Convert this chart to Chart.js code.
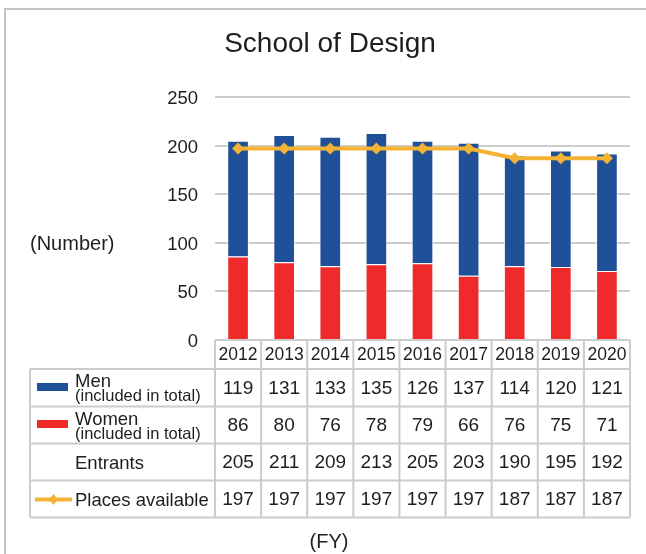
<!DOCTYPE html>
<html><head><meta charset="utf-8">
<script src="https://cdn.jsdelivr.net/npm/chart.js@4/dist/chart.umd.min.js"></script>
<style>html,body{margin:0;padding:0;background:#fff}#wrap{position:relative;width:646px;height:554px}canvas{display:block}</style>
</head><body><div id="wrap"><canvas id="c" width="646" height="554"></canvas></div>
<script>
const chartTitle = 'School of Design';
const yAxisLabel = '(Number)';
const xAxisLabel = '(FY)';
const years = ['2012','2013','2014','2015','2016','2017','2018','2019','2020'];
const men = [119,131,133,135,126,137,114,120,121];
const women = [86,80,76,78,79,66,76,75,71];
const entrants = [205,211,209,213,205,203,190,195,192];
const places = [197,197,197,197,197,197,187,187,187];
const yTicks = [0,50,100,150,200,250];
const rowLabels = [['Men','(included in total)'],['Women','(included in total)'],['Entrants'],['Places available']];

const BLUE = '#1F5098', RED = '#EE2A2A', GOLD = '#F5B335';
const GRID = '#cccccc', TEXT = '#1e1e1e';
const FONT = '"Liberation Sans", Arial, Helvetica, sans-serif';

const tablePlugin = {
  id: 'tablePlugin',
  afterDraw(chart) {
    const ctx = chart.ctx;
    const xs = chart.scales.x;
    const area = chart.chartArea;
    const n = years.length;
    const w = (area.right - area.left) / n;
    const bounds = [];
    for (let i = 0; i <= n; i++) bounds.push(area.left + i * w);
    ctx.save();
    // frame
    ctx.strokeStyle = '#c4c4c4'; ctx.lineWidth = 2;
    ctx.beginPath(); ctx.moveTo(4, 9); ctx.lineTo(646, 9); ctx.moveTo(5, 9); ctx.lineTo(5, 554); ctx.stroke();
    // title
    ctx.fillStyle = TEXT; ctx.textAlign = 'center'; ctx.textBaseline = 'alphabetic';
    ctx.font = '28px ' + FONT;
    ctx.fillText(chartTitle, 330, 52);
    // y label
    ctx.font = '20px ' + FONT; ctx.textAlign = 'left';
    ctx.fillText(yAxisLabel, 30, 250);
    // x label
    ctx.textAlign = 'center';
    ctx.fillText(xAxisLabel, 329, 548);
    // table grid
    const top = area.bottom, tableLeft = 30;
    const rowY = [top, 369, 406.5, 443.5, 480.5, 517.5];
    ctx.strokeStyle = GRID; ctx.lineWidth = 2;
    ctx.beginPath();
    ctx.moveTo(area.left, rowY[0]); ctx.lineTo(area.right, rowY[0]);
    for (let r = 1; r < rowY.length; r++) { ctx.moveTo(tableLeft, rowY[r]); ctx.lineTo(area.right, rowY[r]); }
    ctx.moveTo(tableLeft, rowY[1]); ctx.lineTo(tableLeft, rowY[5]);
    for (const b of bounds) { ctx.moveTo(b, rowY[0]); ctx.lineTo(b, rowY[5]); }
    ctx.stroke();
    // header
    ctx.fillStyle = TEXT; ctx.textAlign = 'center'; ctx.textBaseline = 'middle';
    ctx.font = '17.5px ' + FONT;
    years.forEach((y, i) => ctx.fillText(y, xs.getPixelForValue(i), (rowY[0] + rowY[1]) / 2 + 1));
    // values
    ctx.font = '19px ' + FONT;
    const rows = [men, women, entrants, places];
    rows.forEach((arr, r) => {
      const cy = (rowY[r + 1] + rowY[r + 2]) / 2 + 1;
      arr.forEach((v, i) => ctx.fillText(String(v), xs.getPixelForValue(i), cy));
    });
    // row labels
    ctx.textAlign = 'left'; ctx.textBaseline = 'alphabetic';
    rowLabels.forEach((lab, r) => {
      const y0 = rowY[r + 1], y1 = rowY[r + 2];
      if (lab.length === 2) {
        ctx.font = '18.5px ' + FONT; ctx.fillText(lab[0], 75, y0 + 18);
        ctx.font = '16.5px ' + FONT; ctx.fillText(lab[1], 75, y0 + 32);
      } else {
        ctx.font = '18.5px ' + FONT; ctx.fillText(lab[0], 75, (y0 + y1) / 2 + 7);
      }
    });
    // legend swatches
    ctx.fillStyle = BLUE; ctx.fillRect(37, 383, 31, 8);
    ctx.fillStyle = RED; ctx.fillRect(37, 420, 31, 8);
    ctx.strokeStyle = GOLD; ctx.lineWidth = 4;
    ctx.beginPath(); ctx.moveTo(35, 499.5); ctx.lineTo(72, 499.5); ctx.stroke();
    ctx.fillStyle = GOLD; ctx.beginPath();
    ctx.moveTo(53.5, 494); ctx.lineTo(58, 499.5); ctx.lineTo(53.5, 505); ctx.lineTo(49, 499.5); ctx.closePath(); ctx.fill();
    ctx.restore();
  }
};

new Chart(document.getElementById('c'), {
  data: {
    labels: years,
    datasets: [
      { type: 'line', label: 'Places available', data: places, borderColor: GOLD, backgroundColor: GOLD,
        borderWidth: 4, pointStyle: 'rectRot', pointRadius: 6, pointBackgroundColor: GOLD, pointBorderColor: GOLD,
        pointBorderWidth: 0, tension: 0, order: 0, stack: 'line' },
      { type: 'bar', label: 'Women (included in total)', data: women, backgroundColor: RED,
        borderColor: 'rgba(255,255,255,0.85)', borderWidth: 1, borderSkipped: 'start', order: 1, stack: 'total',
        barPercentage: 0.47, categoryPercentage: 1 },
      { type: 'bar', label: 'Men (included in total)', data: men, backgroundColor: BLUE,
        borderColor: 'rgba(255,255,255,0.85)', borderWidth: 1, borderSkipped: 'start', order: 1, stack: 'total',
        barPercentage: 0.47, categoryPercentage: 1 }
    ]
  },
  options: {
    responsive: false, animation: false, devicePixelRatio: 1,
    layout: { padding: { top: 97, right: 16, bottom: 214, left: 0 } },
    plugins: { legend: { display: false }, title: { display: false }, tooltip: { enabled: false } },
    scales: {
      x: { type: 'category', display: false, stacked: true, offset: true },
      y: {
        stacked: true, min: 0, max: 250,
        afterFit(scale) { scale.width = 215; },
        afterBuildTicks(scale) { scale.ticks = yTicks.map(v => ({ value: v })); },
        ticks: { font: { size: 18.5, family: FONT }, color: TEXT, padding: 17, labelOffset: 2 },
        grid: { color: GRID, lineWidth: 2, drawTicks: false },
        border: { display: false }
      }
    }
  },
  plugins: [tablePlugin]
});
</script>
</body></html>
